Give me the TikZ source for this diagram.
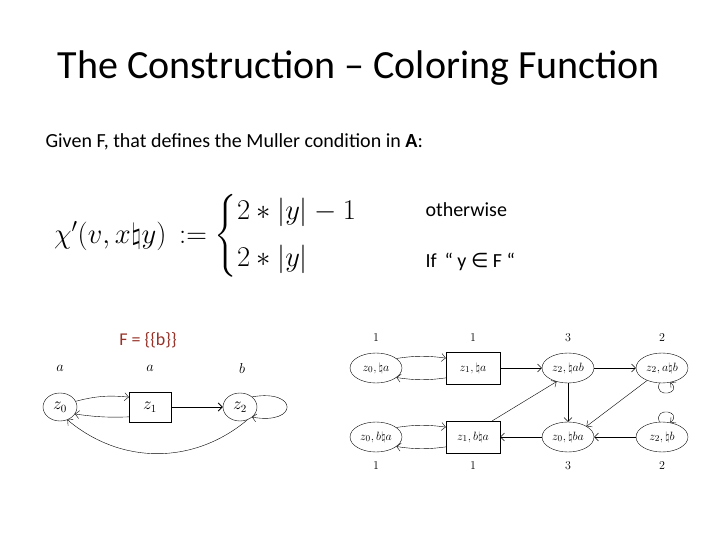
\documentclass[tikz,border=0pt]{standalone}
\usepackage{amsmath,amssymb}
\usepackage{fontspec}
\setmainfont{Carlito}
\newfontfamily\djv{DejaVu Sans}
\usetikzlibrary{shapes.geometric,arrows.meta}
\begin{document}
\begin{tikzpicture}[x=1pt,y=-1pt,
  st/.style={draw,ellipse,inner sep=1pt,minimum width=34pt,minimum height=28pt,font=\fontsize{16}{16}\selectfont},
  bx/.style={draw,rectangle,minimum width=42pt,minimum height=30pt,font=\fontsize{16}{16}\selectfont},
  sr/.style={draw,ellipse,inner sep=0pt,minimum width=52pt,minimum height=30pt,font=\fontsize{13}{13}\selectfont},
  br/.style={draw,rectangle,minimum width=54pt,minimum height=32pt,font=\fontsize{13}{13}\selectfont},
  lb/.style={font=\fontsize{15}{15}\selectfont},
  ls/.style={font=\fontsize{12.5}{12.5}\selectfont},
  ar/.style={-{Straight Barb[length=4pt]},thin}]
\useasboundingbox (0,0) rectangle (720,540);
\node (title) at (359,68) {\fontsize{40}{40}\selectfont The Construction -- Coloring Function};
\node[anchor=west,scale=1.15] (form) at (50,236) {\fontsize{24}{24}\selectfont $\chi'(v,x\natural y)\,:=\begin{cases}2*|y|-1\\[12pt] 2*|y|\end{cases}$};
\node[anchor=west] (given) at (42,142) {\fontsize{20}{20}\selectfont Given F, that defines the Muller condition in \textbf{A}:};
\node[anchor=west] (oth) at (422,210) {\fontsize{20}{20}\selectfont otherwise};
\node[anchor=west] (iff) at (422,262) {\fontsize{20}{20}\selectfont If \,“ y {\djv∈} F “};
\node (F) at (148,340) {\fontsize{18}{18}\selectfont\color[RGB]{150,50,40}F = \{\{b\}\}};
% left graph
\node[st] (a0) at (60,407) {$z_0$};
\node[bx] (a1) at (150,407) {$z_1$};
\node[st] (a2) at (240,407) {$z_2$};
\node[lb] (la0) at (60,368) {$a$};
\node[lb] (la1) at (150,368) {$a$};
\node[lb] (la2) at (242,368) {$b$};
\draw[ar] (a0.20) to[bend left=10] (a1.155);
\draw[ar] (a1.205) to[bend left=5] (a0.-25);
\draw[ar,thick] (a1) -- (a2);
\draw[ar] (a2.-60) to[out=220,in=-40] (a0.-60);
\draw[ar] (a2.40) to[out=10,in=-10,looseness=6] (a2.-40);
% right graph
\node[sr] (b1) at (376,368) {$z_0,\natural a$};
\node[br] (b2) at (473,368) {$z_1,\natural a$};
\node[sr] (b3) at (568,368) {$z_2,\natural ab$};
\node[sr] (b4) at (662,368) {$z_2,a\natural b$};
\node[sr] (c1) at (376,437) {$z_0,b\natural a$};
\node[br] (c2) at (473,437) {$z_1,b\natural a$};
\node[sr] (c3) at (568,437) {$z_0,\natural ba$};
\node[sr] (c4) at (662,437) {$z_2,\natural b$};
\foreach \n/\x/\t in {t1/376/1,t2/473/1,t3/568/3,t4/662/2}{\node[ls] (\n) at (\x,338) {$\t$};}
\foreach \n/\x/\t in {u1/376/1,u2/473/1,u3/568/3,u4/662/2}{\node[ls] (\n) at (\x,466) {$\t$};}
\draw[ar] (b1.25) to[bend left=8] (b2.160);
\draw[ar] (b2.200) to[bend left=8] (b1.-25);
\draw[ar] (b2) -- (b3);
\draw[ar] (b3) -- (b4);
\draw[ar] (b3) -- (c3);
\draw[ar] (b4.-140) -- (c3.30);
\draw[ar] (b4.-100) to[out=-110,in=-40,looseness=4] (b4.-60);
\draw[ar] (c4) -- (c3);
\draw[ar] (c4.100) to[out=110,in=40,looseness=4] (c4.60);
\draw[ar] (c3) -- (c2);
\draw[ar] (c2.40) -- (b3.-130);
\draw[ar] (c1.25) to[bend left=8] (c2.160);
\draw[ar] (c2.200) to[bend left=8] (c1.-25);
\end{tikzpicture}
\end{document}
